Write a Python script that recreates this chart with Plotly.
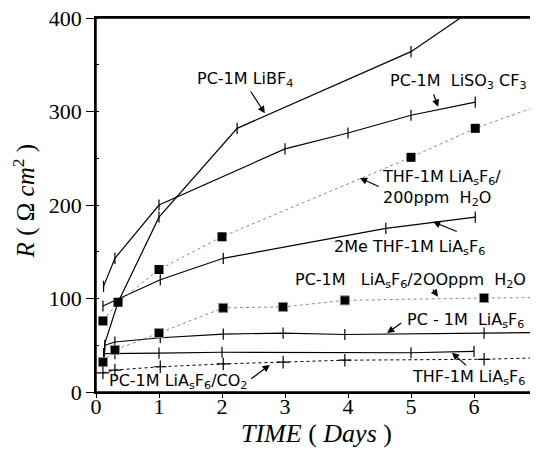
import plotly.graph_objects as go

# ---------------- data ----------------
days_libf4 = [0.13, 0.14, 0.35, 1.0, 2.24, 5.0, 6.0]
r_libf4 = [35, 52, 96, 187, 282, 364, 410]

days_liso3cf3 = [0.12, 0.30, 1.0, 3.0, 4.0, 5.0, 6.02]
r_liso3cf3 = [113, 143, 200, 260, 277, 296, 310]

days_2me = [0.11, 1.02, 2.02, 4.6, 6.02]
r_2me = [92, 120, 143, 175, 187]

days_thf_h2o = [0.11, 0.35, 1.0, 2.0, 5.0, 6.02, 6.98]
r_thf_h2o = [76, 96, 131, 166, 251, 282, 305]

days_pc_h2o = [0.11, 0.30, 1.0, 2.02, 2.97, 3.95, 6.16, 7.0]
r_pc_h2o = [32, 45, 63, 90, 91, 98, 100.5, 101]

days_pc = [0.14, 0.30, 1.02, 2.02, 2.97, 3.95, 6.16, 7.0]
r_pc = [50, 53.5, 58, 62, 63, 61.5, 63, 63.5]

days_thf = [0.12, 0.30, 1.0, 2.0, 5.0, 6.0]
r_thf = [41, 41, 41.5, 42.5, 42, 43.5]

days_co2 = [0.11, 0.30, 1.02, 2.02, 2.97, 3.95, 6.16, 7.0]
r_co2 = [20.5, 23.5, 27, 30, 32, 34, 35, 36.5]

x_ticks = [0, 1, 2, 3, 4, 5, 6, 7]
y_ticks = [0, 100, 200, 300, 400]

SP = "&nbsp;"
# label text, text anchor (left, middle), arrow tail, arrow head (data units)
labels = [
    ("PC-1M LiBF<sub>4</sub>", (1.57, 334), (2.44, 323), (2.68, 298)),
    ("PC-1M" + SP + " LiSO<sub>3</sub> CF<sub>3</sub>", (4.63, 332), (5.35, 320), (5.43, 305)),
    ("THF-1M LiA<sub>s</sub>F<sub>6</sub>/<br>200ppm" + SP + " H<sub>2</sub>O", (4.51, 218), (4.51, 219), (4.19, 229)),
    ("2Me THF-1M LiA<sub>s</sub>F<sub>6</sub>", (3.75, 155), (5.75, 171), (5.35, 182)),
    ("PC-1M" + SP + SP + " LiA<sub>s</sub>F<sub>6</sub>/2OOppm" + SP + " H<sub>2</sub>O", (3.13, 119), (5.33, 111), (5.43, 102)),
    ("PC - 1M" + SP + " LiA<sub>s</sub>F<sub>6</sub>", (4.90, 77), (4.87, 75), (4.62, 63)),
    ("THF-1M LiA<sub>s</sub>F<sub>6</sub>", (4.98, 15), (5.90, 27), (5.65, 42)),
    ("PC-1M LiA<sub>s</sub>F<sub>6</sub>/CO<sub>2</sub>", (0.17, 11), (2.44, 13), (2.76, 29)),
]

fig = go.Figure()

def solid(x, y, sizes=None):
    fig.add_trace(go.Scatter(
        x=x, y=y, mode="lines+markers",
        line=dict(color="black", width=1.2),
        marker=dict(symbol="line-ns", size=sizes if sizes else 8, opacity=1,
                    line=dict(color="black", width=1.2)),
        showlegend=False, cliponaxis=True))

def squares(x, y, sizes=None):
    fig.add_trace(go.Scatter(
        x=x, y=y, mode="lines+markers",
        line=dict(color="#8a8a8a", width=1, dash="dot"),
        marker=dict(symbol="square", size=sizes if sizes else 9, color="black", opacity=1),
        showlegend=False, cliponaxis=True))

solid(days_libf4, r_libf4, [0, 0, 0, 8, 8, 8, 8])
solid(days_liso3cf3, r_liso3cf3)
solid(days_2me, r_2me)
solid(days_pc, r_pc, [8, 8, 8, 8, 8, 8, 8, 0])
solid(days_thf, r_thf)
squares(days_thf_h2o, r_thf_h2o)
squares(days_pc_h2o, r_pc_h2o, [9, 9, 9, 9, 9, 9, 9, 0])
fig.add_trace(go.Scatter(
    x=days_co2, y=r_co2, mode="lines+markers",
    line=dict(color="black", width=1, dash="3px,3px"),
    marker=dict(symbol="cross-thin", size=[9, 9, 9, 9, 9, 9, 9, 0], opacity=1,
                line=dict(color="black", width=1.2)),
    showlegend=False))

ann = []
for text, (tx, ty), (ax_, ay_), (hx, hy) in labels:
    ann.append(dict(x=tx, y=ty, xref="x", yref="y", text=text, showarrow=False,
                    xanchor="left", yanchor="middle", align="left",
                    font=dict(family="DejaVu Sans", size=16, color="black")))
    ann.append(dict(x=hx, y=hy, ax=ax_, ay=ay_, xref="x", yref="y",
                    axref="x", ayref="y", text="", showarrow=True,
                    arrowhead=2, arrowsize=1.2, arrowwidth=1.2, arrowcolor="black"))

ann.append(dict(x=-0.163, y=0.51, xref="paper", yref="paper", textangle=-90,
                xanchor="center", yanchor="middle",
                text="<i>R</i> ( Ω <i>cm</i><sup>2</sup> )", showarrow=False,
                font=dict(family="Liberation Serif", size=25, color="black")))
ann.append(dict(x=0.501, y=-0.112, xref="paper", yref="paper",
                xanchor="center", yanchor="middle",
                text="<i>TIME</i> ( <i>Days</i> )", showarrow=False,
                font=dict(family="Liberation Serif", size=26, color="black")))

# page body has an 8px margin: the figure is sized/margined to compensate
fig.update_layout(
    width=530, height=444, template="none",
    margin=dict(l=88, r=1, t=10, b=60, pad=0),
    paper_bgcolor="white", plot_bgcolor="white",
    annotations=ann,
    shapes=[dict(type="rect", xref="paper", yref="paper", x0=0, x1=1, y0=0, y1=1,
                 line=dict(color="black", width=1.5), layer="above")],
    xaxis=dict(range=[0, 7], tickvals=x_ticks, ticktext=[str(v) for v in x_ticks],
               ticks="outside", ticklen=4, tickwidth=1.2, tickcolor="black",
               ticklabelstandoff=-10, ticklabeloverflow="allow",
               showline=True, linecolor="black", linewidth=1.5, mirror=True,
               showgrid=False, zeroline=False, automargin=False,
               tickfont=dict(family="Liberation Serif", size=22, color="black")),
    yaxis=dict(range=[0, 400], tickvals=y_ticks, ticktext=[str(v) for v in y_ticks],
               ticks="outside", ticklen=8, tickwidth=1.2, tickcolor="black",
               ticklabeloverflow="allow",
               minor=dict(dtick=50, ticks="inside", ticklen=3, tickcolor="black"),
               showline=True, linecolor="black", linewidth=1.5, mirror=True,
               showgrid=False, zeroline=False, automargin=False,
               tickfont=dict(family="Liberation Serif", size=22, color="black")),
)

fig.write_html("out.html")
